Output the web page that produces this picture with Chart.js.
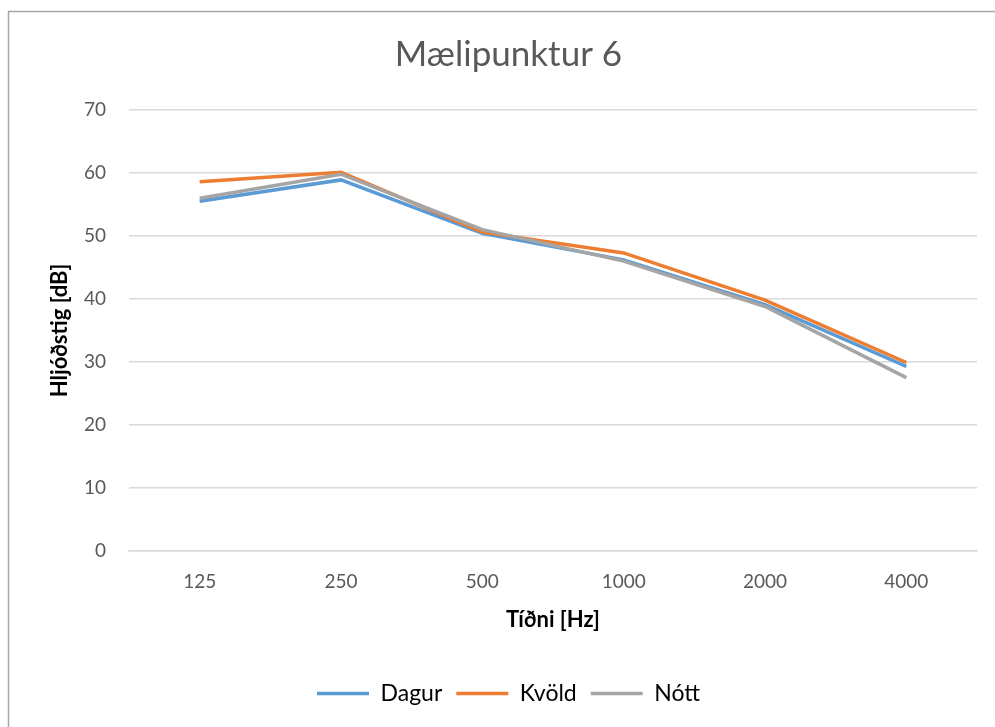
<!DOCTYPE html>
<html>
<head>
<meta charset="utf-8">
<script src="https://cdn.jsdelivr.net/npm/chart.js@4.4.1/dist/chart.umd.min.js"></script>
<style>
html,body{margin:0;padding:0;background:#fff;}
#wrap{position:relative;width:995px;height:727px;}
canvas{display:block;}
</style>
</head>
<body>
<div id="wrap"><canvas id="c" width="995" height="727"></canvas></div>
<script>
const categories = ["125", "250", "500", "1000", "2000", "4000"];
const dagur = [55.5, 58.9, 50.4, 46.2, 39.1, 29.3];
const kvold = [58.6, 60.1, 50.6, 47.3, 39.8, 29.9];
const nott  = [56.0, 59.8, 51.0, 46.0, 38.8, 27.5];
const seriesNames = ["Dagur", "Kvöld", "Nótt"];
const titleText = "Mælipunktur 6";
const yTitle = "Hljóðstig [dB]";
const xTitle = "Tíðni [Hz]";

const FONT = "Lato, 'Open Sans', sans-serif";
const txt = "#595959";

const borderPlugin = {
  id: 'frame',
  beforeDraw(chart) {
    const ctx = chart.ctx;
    ctx.save();
    ctx.fillStyle = '#fff';
    ctx.fillRect(0, 0, chart.width, chart.height);
    ctx.strokeStyle = '#a6a6a6';
    ctx.lineWidth = 1.5;
    ctx.beginPath();
    ctx.moveTo(8.5, chart.height + 5);
    ctx.lineTo(8.5, 11.5);
    ctx.lineTo(chart.width + 5, 11.5);
    ctx.stroke();
    ctx.restore();
  }
};

function mk(label, data, color, order) {
  return {
    label, data,
    borderColor: color, backgroundColor: color,
    borderWidth: 3.5, pointRadius: 0, pointHoverRadius: 0,
    pointStyle: 'line', tension: 0, order
  };
}

new Chart(document.getElementById('c'), {
  type: 'line',
  data: {
    labels: categories,
    datasets: [
      mk(seriesNames[0], dagur, '#5B9BD5', 3),
      mk(seriesNames[1], kvold, '#ED7D31', 2),
      mk(seriesNames[2], nott, '#A5A5A5', 1)
    ]
  },
  plugins: [borderPlugin],
  options: {
    responsive: false,
    animation: false,
    layout: { padding: { left: 40, right: 18, top: 0, bottom: 12 } },
    plugins: {
      tooltip: { enabled: false },
      title: {
        display: true, text: titleText, color: txt,
        font: { family: FONT, size: 35, weight: 'normal' },
        padding: { top: 34, bottom: 34 }
      },
      legend: {
        position: 'bottom',
        labels: {
          usePointStyle: true, pointStyle: 'line', pointStyleWidth: 52,
          color: '#000', font: { family: FONT, size: 23 },
          padding: 14,
          sort: (a, b) => a.datasetIndex - b.datasetIndex
        }
      }
    },
    scales: {
      x: {
        offset: true,
        grid: { display: false, drawTicks: false },
        border: { display: true, color: '#d9d9d9', width: 1.5 },
        ticks: { color: txt, font: { family: FONT, size: 19 }, padding: 20 },
        title: { display: true, text: xTitle, color: '#000', font: { family: FONT, size: 22, weight: 'bold' }, padding: { top: -7, bottom: 35 } }
      },
      y: {
        min: 0, max: 70,
        ticks: { stepSize: 10, color: txt, font: { family: FONT, size: 19 }, padding: 23 },
        grid: { color: '#d9d9d9', lineWidth: 1.5, drawTicks: false },
        border: { display: false },
        title: { display: true, text: yTitle, color: '#000', font: { family: FONT, size: 22, weight: 'bold' }, padding: { top: 7, bottom: 0 } },
        afterFit(s) { s.width = 89; }
      }
    }
  }
});
</script>
</body>
</html>
